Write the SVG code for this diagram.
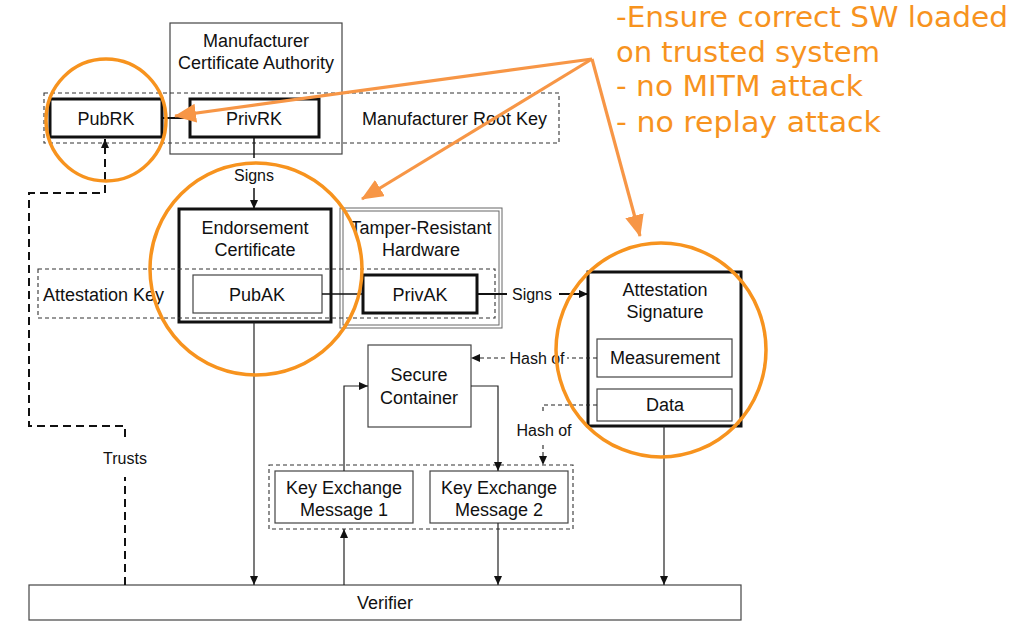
<svg xmlns="http://www.w3.org/2000/svg" width="1020" height="641" viewBox="0 0 1020 641">
<defs>
<style>
.lbl{font-family:"Liberation Sans",Arial,sans-serif;font-size:18px;fill:#111;text-anchor:middle}
.sm{font-family:"Liberation Sans",Arial,sans-serif;font-size:16px;fill:#111;text-anchor:middle}
.thick{fill:#fff;stroke:#111;stroke-width:3}
.thin{fill:#fff;stroke:#444;stroke-width:1.2}
.dbox{fill:none;stroke:#333;stroke-width:1.1;stroke-dasharray:4,3}
.ln{fill:none;stroke:#222;stroke-width:1.2}
.lnb{fill:none;stroke:#111;stroke-width:2}
.dl{fill:none;stroke:#222;stroke-width:1.1;stroke-dasharray:4,3}
.tr{fill:none;stroke:#111;stroke-width:2;stroke-dasharray:8,5}
.oc{fill:none;stroke:#F7931E;stroke-width:3.5}
.oa{fill:none;stroke:#F79646;stroke-width:3.2}
.ot{font-family:"DejaVu Sans",Verdana,sans-serif;font-size:29px;fill:#F7931E}
</style>
<marker id="ah" markerUnits="userSpaceOnUse" markerWidth="10" markerHeight="8" refX="9" refY="4" orient="auto">
<path d="M0,0 L9,4 L0,8 z" fill="#111"/>
</marker>
<marker id="oh" markerUnits="userSpaceOnUse" markerWidth="24" markerHeight="20" refX="21" refY="9.5" orient="auto">
<path d="M0,0 L22,9.5 L0,19 z" fill="#F79646"/>
</marker>
</defs>
<rect x="0" y="0" width="1020" height="641" fill="#fff"/>

<g id="mca">
<rect x="170" y="23" width="172" height="131" class="thin"/>
<text x="256" y="47" class="lbl">Manufacturer</text>
<text x="256" y="69" class="lbl">Certificate Authority</text>
</g>
<g id="mrk">
<rect x="44" y="93" width="515" height="50" class="dbox"/>
<text x="362" y="125" class="lbl" style="text-anchor:start">Manufacturer Root Key</text>
</g>
<g id="pubrk">
<rect x="50" y="99" width="112" height="38" class="thick"/>
<text x="106" y="125" class="lbl">PubRK</text>
</g>
<g id="privrk">
<rect x="190" y="99" width="129" height="38" class="thick"/>
<text x="254" y="125" class="lbl">PrivRK</text>
</g>
<g id="trh">
<rect x="340" y="208" width="162" height="120" fill="none" stroke="#666" stroke-width="1"/>
<rect x="343" y="211" width="156" height="114" fill="none" stroke="#666" stroke-width="1"/>
<text x="421" y="234" class="lbl">Tamper-Resistant</text>
<text x="421" y="256" class="lbl">Hardware</text>
</g>
<g id="endorse">
<rect x="179" y="209" width="152" height="113" class="thick"/>
<text x="255" y="234" class="lbl">Endorsement</text>
<text x="255" y="256" class="lbl">Certificate</text>
</g>
<g id="ak">
<rect x="38" y="269" width="457" height="49" class="dbox"/>
<text x="43" y="301" class="lbl" style="text-anchor:start">Attestation Key</text>
</g>
<g id="pubak">
<rect x="193" y="275" width="129" height="38" class="thin"/>
<text x="257" y="301" class="lbl">PubAK</text>
</g>
<g id="privak">
<rect x="363" y="275" width="114" height="38" class="thick"/>
<text x="420" y="301" class="lbl">PrivAK</text>
</g>
<g id="attsig">
<rect x="588" y="272" width="153" height="154" class="thick"/>
<text x="665" y="296" class="lbl">Attestation</text>
<text x="665" y="318" class="lbl">Signature</text>
</g>
<g id="meas">
<rect x="597" y="339" width="135" height="38" class="thin"/>
<text x="665" y="364" class="lbl">Measurement</text>
</g>
<g id="data">
<rect x="597" y="389" width="135" height="32" class="thin"/>
<text x="665" y="411" class="lbl">Data</text>
</g>
<g id="sc">
<rect x="368" y="345" width="103" height="82" class="thin"/>
<text x="419" y="381" class="lbl">Secure</text>
<text x="419" y="404" class="lbl">Container</text>
</g>
<g id="kegroup">
<rect x="269" y="465" width="304" height="64" class="dbox"/>
</g>
<g id="kem1">
<rect x="275" y="471" width="138" height="52" class="thin"/>
<text x="344" y="494" class="lbl">Key Exchange</text>
<text x="344" y="516" class="lbl">Message 1</text>
</g>
<g id="kem2">
<rect x="430" y="471" width="138" height="52" class="thin"/>
<text x="499" y="494" class="lbl">Key Exchange</text>
<text x="499" y="516" class="lbl">Message 2</text>
</g>
<g id="verifier">
<rect x="29" y="585" width="712" height="35" class="thin"/>
<text x="385" y="609" class="lbl">Verifier</text>
</g>

<g id="connectors">
<path d="M162,118 H190" class="lnb"/>
<path d="M254,137 V158" class="lnb" style="stroke-width:1.5"/>
<text x="254" y="181" class="sm">Signs</text>
<path d="M254,188 V209" class="lnb" style="stroke-width:1.5" marker-end="url(#ah)"/>
<path d="M322,294 H363" class="lnb" style="stroke-width:1.5"/>
<path d="M477,294 H507" class="lnb"/>
<text x="532" y="300" class="sm">Signs</text>
<path d="M559,294 H588" class="lnb" marker-end="url(#ah)"/>
<path d="M254,322 V585" class="ln" marker-end="url(#ah)"/>
<path d="M597,358 H567" class="dl"/>
<text x="537" y="364" class="sm">Hash of</text>
<path d="M505,358 H471" class="dl" marker-end="url(#ah)"/>
<path d="M597,405 H543 V413" class="dl"/>
<text x="544" y="436" class="sm">Hash of</text>
<path d="M543,445 V465" class="dl" marker-end="url(#ah)"/>
<path d="M344,471 V386 H368" class="ln" marker-end="url(#ah)"/>
<path d="M471,386 H498 V471" class="ln" marker-end="url(#ah)"/>
<path d="M344,585 V529" class="ln" marker-end="url(#ah)"/>
<path d="M498,523 V585" class="ln" marker-end="url(#ah)"/>
<path d="M664,426 V585" class="ln" marker-end="url(#ah)"/>
<path d="M125,585 V477" class="tr"/>
<text x="125" y="464" class="sm">Trusts</text>
<path d="M125,437 V426 H29 V193 H105 V139" class="tr" marker-end="url(#ah)"/>
</g>

<g id="annotation">
<ellipse cx="106" cy="120" rx="60" ry="61" class="oc"/>
<ellipse cx="256" cy="269" rx="106" ry="106" class="oc"/>
<ellipse cx="661" cy="350" rx="105" ry="107" class="oc"/>
<path d="M592,59 L175,116" class="oa" marker-end="url(#oh)"/>
<path d="M592,59 L362,199" class="oa" marker-end="url(#oh)"/>
<path d="M592,59 L640,236" class="oa" marker-end="url(#oh)"/>
<text x="616" y="27" class="ot" textLength="392" lengthAdjust="spacingAndGlyphs">-Ensure correct SW loaded</text>
<text x="616" y="62" class="ot" textLength="264" lengthAdjust="spacingAndGlyphs">on trusted system</text>
<text x="616" y="96" class="ot" textLength="247" lengthAdjust="spacingAndGlyphs">- no MITM attack</text>
<text x="616" y="132" class="ot" textLength="265" lengthAdjust="spacingAndGlyphs">- no replay attack</text>
</g>
</svg>
